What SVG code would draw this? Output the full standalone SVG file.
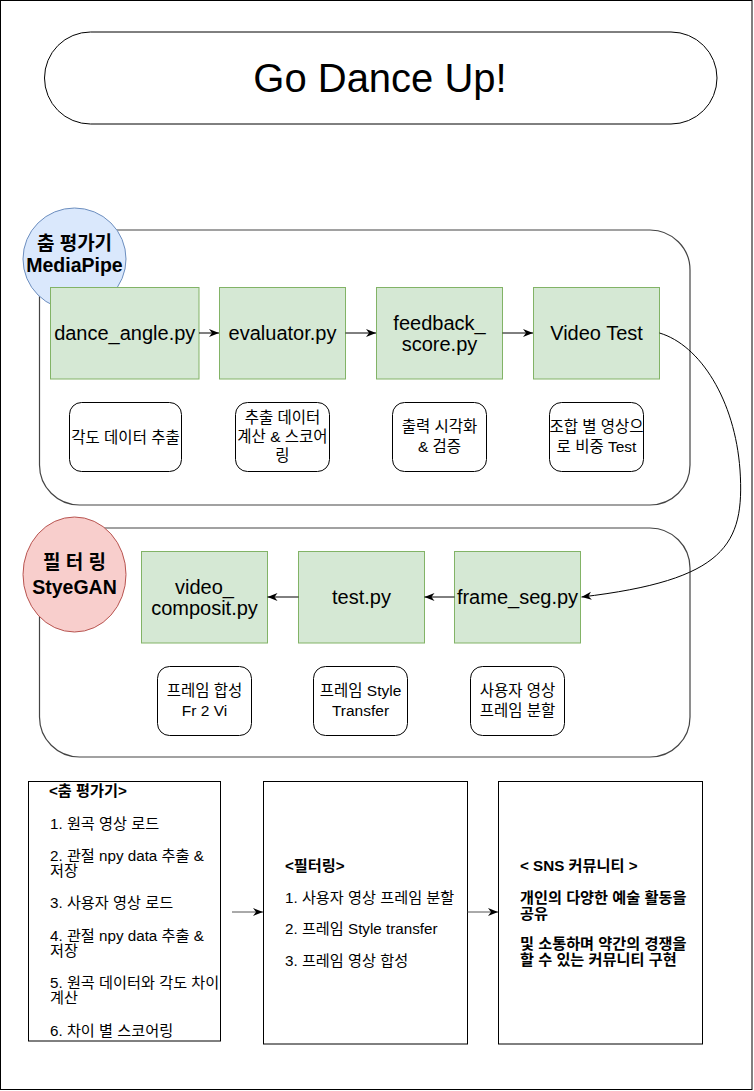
<svg xmlns="http://www.w3.org/2000/svg" width="754" height="1091" viewBox="0 0 754 1091">
<style>
text{font-family:"Liberation Sans","Noto Sans CJK KR",sans-serif;fill:#000;dominant-baseline:central}
.c{text-anchor:middle}
.b{font-weight:bold}
.panel{fill:#fff;stroke:#444;stroke-width:1.2}
.green{fill:#d5e8d4;stroke:#82b366;stroke-width:1}
.note{fill:#fff;stroke:#000;stroke-width:1}
.box{fill:#fff;stroke:#000;stroke-width:1}
.g20{font-size:20px}
.n14{font-size:15.5px}
.t13{font-size:15.2px}
.conn{fill:none;stroke:#000;stroke-width:1}
.gray{stroke:#555}
</style>
<defs>
<marker id="arr" markerUnits="userSpaceOnUse" markerWidth="12" markerHeight="10" refX="10" refY="4" orient="auto">
<path d="M0,0 L10,4 L0,8 L3,4 z" fill="#000"/>
</marker>
<marker id="arrg" markerUnits="userSpaceOnUse" markerWidth="12" markerHeight="10" refX="10" refY="4" orient="auto">
<path d="M0,0 L10,4 L0,8 L3,4 z" fill="#000"/>
</marker>
</defs>
<rect x="0.5" y="0.5" width="751.5" height="1089" fill="#fff" stroke="#000" stroke-width="1"/>

<g id="title">
<rect x="44.5" y="32" width="672.5" height="92" rx="46" ry="46" fill="#fff" stroke="#000" stroke-width="1"/>
<text class="c" x="380" y="78" font-size="40">Go Dance Up!</text>
</g>

<g id="panel1"><rect class="panel" x="39.5" y="230" width="650.5" height="275" rx="40" ry="40"/></g>
<g id="panel2"><rect class="panel" x="39.5" y="528" width="650.5" height="229" rx="40" ry="40"/></g>

<g id="label1">
<ellipse cx="74.5" cy="259" rx="51.5" ry="51" fill="#dae8fc" stroke="#6c8ebf"/>
<text class="c b" x="74.5" y="243" font-size="19">춤 평가기</text>
<text class="c b" x="74.5" y="265" font-size="19.5">MediaPipe</text>
</g>
<g id="label2">
<ellipse cx="74.5" cy="574.5" rx="51.5" ry="57.5" fill="#f8cecc" stroke="#b85450"/>
<text class="c b" x="74.5" y="562" font-size="19">필 터 링</text>
<text class="c b" x="74.5" y="587" font-size="19.5">StyeGAN</text>
</g>

<g id="dance_angle"><rect class="green" x="50.5" y="287.5" width="148.5" height="91.5"/><text class="c g20" x="124.75" y="333">dance_angle.py</text></g>
<g id="evaluator"><rect class="green" x="219.5" y="287.5" width="126" height="91.5"/><text class="c g20" x="282.5" y="333">evaluator.py</text></g>
<g id="feedback"><rect class="green" x="376.5" y="287.5" width="126" height="91.5"/><text class="c g20" x="439.5" y="323">feedback_</text><text class="c g20" x="439.5" y="344">score.py</text></g>
<g id="video_test"><rect class="green" x="533.5" y="287.5" width="126" height="91.5"/><text class="c g20" x="596.5" y="333">Video Test</text></g>

<g id="note1"><rect class="note" x="69.5" y="402.5" width="112" height="69" rx="12" ry="12"/><text class="c n14" x="125.5" y="437">각도 데이터 추출</text></g>
<g id="note2"><rect class="note" x="235.5" y="402.5" width="94" height="69" rx="12" ry="12"/><text class="c n14" x="282.5" y="417">추출 데이터</text><text class="c n14" x="282.5" y="436">계산 &amp; 스코어</text><text class="c n14" x="282.5" y="455">링</text></g>
<g id="note3"><rect class="note" x="392.5" y="402.5" width="94" height="69" rx="12" ry="12"/><text class="c n14" x="439.5" y="426">출력 시각화</text><text class="c n14" x="439.5" y="446">&amp; 검증</text></g>
<g id="note4"><rect class="note" x="549.5" y="402.5" width="94" height="69" rx="12" ry="12"/><text class="c n14" x="596.5" y="426">조합 별 영상으</text><text class="c n14" x="596.5" y="446">로 비중 Test</text></g>

<g id="video_composit"><rect class="green" x="141.5" y="551.5" width="126" height="91.5"/><text class="c g20" x="204.5" y="587">video_</text><text class="c g20" x="204.5" y="608">composit.py</text></g>
<g id="test"><rect class="green" x="298.5" y="551.5" width="126" height="91.5"/><text class="c g20" x="361.5" y="597">test.py</text></g>
<g id="frame_seg"><rect class="green" x="454.5" y="551.5" width="126" height="91.5"/><text class="c g20" x="517.5" y="597">frame_seg.py</text></g>

<g id="note5"><rect class="note" x="157.5" y="666.5" width="94" height="69" rx="12" ry="12"/><text class="c n14" x="204.5" y="690">프레임 합성</text><text class="c n14" x="204.5" y="710">Fr 2 Vi</text></g>
<g id="note6"><rect class="note" x="313.5" y="666.5" width="94" height="69" rx="12" ry="12"/><text class="c n14" x="360.5" y="690">프레임 Style</text><text class="c n14" x="360.5" y="710">Transfer</text></g>
<g id="note7"><rect class="note" x="470.5" y="666.5" width="94" height="69" rx="12" ry="12"/><text class="c n14" x="517.5" y="690">사용자 영상</text><text class="c n14" x="517.5" y="710">프레임 분할</text></g>

<g id="box1"><rect class="box" x="28.5" y="781.5" width="192" height="259.5"/>
<text class="t13 b" x="49" y="790">&lt;춤 평가기&gt;</text>
<text class="t13" x="50" y="823">1. 원곡 영상 로드</text>
<text class="t13" x="50" y="855">2. 관절 npy data 추출 &amp;</text>
<text class="t13" x="50" y="870">저장</text>
<text class="t13" x="50" y="902">3. 사용자 영상 로드</text>
<text class="t13" x="50" y="935">4. 관절 npy data 추출 &amp;</text>
<text class="t13" x="50" y="950">저장</text>
<text class="t13" x="50" y="982">5. 원곡 데이터와 각도 차이</text>
<text class="t13" x="50" y="997">계산</text>
<text class="t13" x="50" y="1030">6. 차이 별 스코어링</text>
</g>
<g id="box2"><rect class="box" x="263.5" y="781.5" width="204" height="262.5"/>
<text class="t13 b" x="285" y="865">&lt;필터링&gt;</text>
<text class="t13" x="285" y="897">1. 사용자 영상 프레임 분할</text>
<text class="t13" x="285" y="928">2. 프레임 Style transfer</text>
<text class="t13" x="285" y="960">3. 프레임 영상 합성</text>
</g>
<g id="box3"><rect class="box" x="498.5" y="781.5" width="204" height="262.5"/>
<text class="t13 b" x="520" y="865">&lt; SNS 커뮤니티 &gt;</text>
<text class="t13 b" x="520" y="897">개인의 다양한 예술 활동을</text>
<text class="t13 b" x="520" y="913">공유</text>
<text class="t13 b" x="520" y="943">및 소통하며 약간의 경쟁을</text>
<text class="t13 b" x="520" y="959">할 수 있는 커뮤니티 구현</text>
</g>

<g id="connectors">
<line class="conn" x1="199" y1="333" x2="219" y2="333" marker-end="url(#arr)"/>
<line class="conn" x1="345.5" y1="333" x2="376" y2="333" marker-end="url(#arr)"/>
<line class="conn" x1="502.5" y1="333" x2="533" y2="333" marker-end="url(#arr)"/>
<path class="conn" d="M659.5,333 C700,345 735,400 740,470 C745,545 725,580 581.5,597" marker-end="url(#arr)"/>
<line class="conn" x1="454.5" y1="597" x2="424.5" y2="597" marker-end="url(#arr)"/>
<line class="conn" x1="298.5" y1="597" x2="267.5" y2="597" marker-end="url(#arr)"/>
<line class="conn gray" x1="232" y1="912" x2="263" y2="912" marker-end="url(#arrg)"/>
<line class="conn gray" x1="467.5" y1="912" x2="498" y2="912" marker-end="url(#arrg)"/>
</g>
</svg>
